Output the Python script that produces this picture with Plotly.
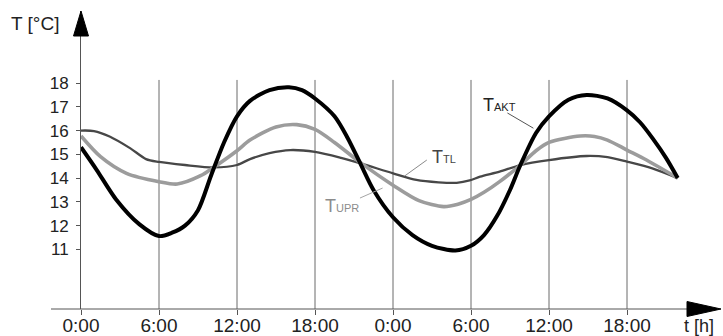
import plotly.graph_objects as go

# ---- data ----
tick_hours = [0, 6, 12, 18, 24, 30, 36, 42]
tick_labels = ["0:00", "6:00", "12:00", "18:00", "0:00", "6:00", "12:00", "18:00"]
y_ticks = [11, 12, 13, 14, 15, 16, 17, 18]

t_akt = [0, 1.2, 2.7, 4.5, 6.0, 7.0, 8.0, 9.0, 10.0, 11.0, 12.0, 13.0, 14.5, 16.0, 17.0, 18.0,
         19.5, 20.5, 21.5, 22.5, 24.0, 25.5, 27.0, 28.8, 30.0, 31.0, 32.0, 33.0, 33.8, 35.0,
         36.0, 37.5, 38.9, 40.5, 42.0, 43.0, 44.0, 45.0, 45.9]
T_akt = [15.3, 14.35, 13.1, 12.05, 11.56, 11.7, 12.0, 12.65, 14.1, 15.5, 16.6, 17.25, 17.7, 17.82,
         17.7, 17.35, 16.6, 15.7, 14.6, 13.5, 12.35, 11.6, 11.15, 10.95, 11.15, 11.6, 12.4,
         13.5, 14.55, 15.9, 16.6, 17.3, 17.5, 17.35, 16.85, 16.35, 15.65, 14.85, 14.0]

t_upr = [0, 1.5, 3.5, 6.0, 7.4, 9.2, 10.2, 12.0, 13.0, 15.0, 16.6, 18.0, 19.5, 21.5, 24.0,
         26.0, 27.9, 29.0, 30.0, 31.0, 32.2, 33.8, 35.0, 36.0, 38.4, 39.5, 40.5, 42.0, 43.5, 45.9]
T_upr = [15.77, 14.9, 14.2, 13.85, 13.75, 14.1, 14.45, 15.15, 15.6, 16.15, 16.25, 16.05, 15.5,
         14.65, 13.7, 13.05, 12.8, 12.9, 13.1, 13.4, 13.85, 14.55, 15.15, 15.5, 15.77, 15.75,
         15.6, 15.18, 14.76, 14.0]

t_tl = [0, 1.0, 2.2, 3.8, 5.0, 6.0, 8.0, 10.2, 12.0, 13.0, 14.5, 16.1, 18.0, 20.0, 21.5,
        24.0, 25.8, 27.5, 28.9, 29.9, 30.7, 32.2, 33.8, 36.0, 38.9, 40.5, 42.0, 44.0, 45.9]
T_tl = [16.0, 15.98, 15.75, 15.25, 14.8, 14.68, 14.55, 14.45, 14.55, 14.8, 15.05, 15.18, 15.1,
        14.85, 14.62, 14.2, 13.92, 13.82, 13.8, 13.9, 14.06, 14.27, 14.55, 14.76, 14.93, 14.88,
        14.69, 14.4, 14.0]

# ---- figure ----
W, H = 723, 336
ML, MR, MT, MB = 81, 0, 11, 27
px_per_h = 13.0
px_per_deg = 23.76
x_max = (W - ML - MR) / px_per_h
y_min = 8.49
y_max = y_min + (H - MT - MB) / px_per_deg
FONT = "Liberation Sans, Arial, sans-serif"
PW, PH = W - ML - MR, H - MT - MB


def px(xp):
    return (xp - ML) / PW


def py(yp):
    return (H - MB - yp) / PH


fig = go.Figure()
fig.add_trace(go.Scatter(x=t_tl, y=T_tl, mode="lines", line=dict(color="#474747", width=2.3, shape="spline", smoothing=0.8), hoverinfo="skip"))
fig.add_trace(go.Scatter(x=t_upr, y=T_upr, mode="lines", line=dict(color="#9c9c9c", width=3.6, shape="spline", smoothing=0.8), hoverinfo="skip"))
fig.add_trace(go.Scatter(x=t_akt, y=T_akt, mode="lines", line=dict(color="#000000", width=4, shape="spline", smoothing=0.8), hoverinfo="skip"))

shapes = []
# vertical grid lines
for h in tick_hours[1:]:
    shapes.append(dict(type="line", xref="x", yref="y", x0=h, x1=h, y0=y_min, y1=18.13,
                       line=dict(color="#6a6a6a", width=1), layer="below"))
# x axis line (extends left of the y axis)
shapes.append(dict(type="line", xref="paper", yref="paper", x0=px(51), x1=px(690), y0=0, y1=0,
                   line=dict(color="#555555", width=1)))
# arrows
shapes.append(dict(type="path", xref="paper", yref="paper",
                   path=f"M {px(81)},{py(11)} L {px(73.5)},{py(36)} L {px(88.5)},{py(36)} Z",
                   fillcolor="black", line=dict(color="black", width=1)))
shapes.append(dict(type="path", xref="paper", yref="paper",
                   path=f"M {px(721)},{py(309)} L {px(687)},{py(301.5)} L {px(687)},{py(316.5)} Z",
                   fillcolor="black", line=dict(color="black", width=1)))
# leader lines for labels
shapes.append(dict(type="line", xref="x", yref="y", x0=32.8, y0=16.74, x1=34.8, y1=16.1,
                   line=dict(color="#555555", width=1)))
shapes.append(dict(type="line", xref="x", yref="y", x0=26.6, y0=14.76, x1=24.9, y1=14.09,
                   line=dict(color="#8a8a8a", width=1)))
shapes.append(dict(type="line", xref="x", yref="y", x0=21.46, y0=13.16, x1=23.2, y1=13.58,
                   line=dict(color="#a5a5a5", width=1)))

annotations = [
    dict(text="T [°C]", xref="paper", yref="paper", x=px(35), y=py(23),
         xanchor="center", yanchor="middle",
         showarrow=False, font=dict(family=FONT, size=19, color="#222")),
    dict(text="t [h]", xref="paper", yref="paper", x=px(682), y=py(326),
         xanchor="left", yanchor="middle", showarrow=False,
         font=dict(family=FONT, size=18, color="#222")),
    dict(text="T<span style='font-size:11px'>AKT</span>", xref="x", yref="y", x=32.2, y=17.07,
         xanchor="center", yanchor="middle",
         showarrow=False, font=dict(family=FONT, size=18, color="#222")),
    dict(text="T<span style='font-size:11px'>TL</span>", xref="x", yref="y", x=27.96, y=14.89,
         xanchor="center", yanchor="middle",
         showarrow=False, font=dict(family=FONT, size=18, color="#444")),
    dict(text="T<span style='font-size:11px'>UPR</span>", xref="x", yref="y", x=20.08, y=12.82,
         xanchor="center", yanchor="middle",
         showarrow=False, font=dict(family=FONT, size=18, color="#8c8c8c")),
]

fig.update_layout(
    width=W, height=H,
    margin=dict(l=ML, r=MR, t=MT, b=MB, pad=0),
    paper_bgcolor="white", plot_bgcolor="white",
    showlegend=False,
    shapes=shapes, annotations=annotations,
    xaxis=dict(range=[0, x_max], showgrid=False, zeroline=False, showline=False,
               tickmode="array", tickvals=tick_hours, ticktext=tick_labels,
               ticks="outside", ticklen=5, tickcolor="#555", tickwidth=1, automargin=False,
               ticklabelstandoff=-6,
               tickfont=dict(family=FONT, size=19, color="#222")),
    yaxis=dict(range=[y_min, y_max], showgrid=False, zeroline=False, showline=True,
               linecolor="#555", linewidth=1, automargin=False,
               tickmode="array", tickvals=y_ticks, ticktext=[str(v) for v in y_ticks],
               ticks="outside", ticklen=4, tickcolor="#555", tickwidth=1,
               ticklabelstandoff=4,
               tickfont=dict(family=FONT, size=17, color="#222")),
)

fig.write_html(
    "out.html",
    config={"displayModeBar": False},
    post_script="document.body.style.margin='0';document.body.style.overflow='hidden';",
)
